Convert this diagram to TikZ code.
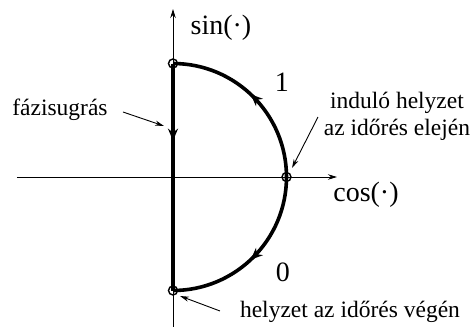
\documentclass[tikz,border=0pt]{standalone}
\usepackage{fontspec}
\setmainfont{Liberation Serif}
\usetikzlibrary{arrows.meta,decorations.markings}
\begin{document}
\begin{tikzpicture}[x=1pt,y=1pt,
  axis/.style={line width=0.9pt,-{Stealth[length=9pt,width=5.5pt]}},
  thickpath/.style={line width=3.6pt},
  midarrow/.style={postaction={decorate},decoration={markings,
     mark=at position #1 with {\arrow{Stealth[length=12pt,width=10pt]}}}},
  pointer/.style={line width=0.9pt,-{Stealth[length=9pt,width=5pt]}},
  marker/.style={circle,draw,line width=1.4pt,minimum size=9pt,inner sep=0pt},
  big/.style={font=\fontsize{28}{32}\selectfont,inner sep=0pt},
  note/.style={font=\fontsize{23.5}{27}\selectfont,inner sep=0pt,align=center}]
\useasboundingbox (-173,-150) rectangle (302,177);
\coordinate (O) at (0,0);
\coordinate (yb) at (0,-150);
\coordinate (yt) at (0,168);
\coordinate (xl) at (-156,0);
\coordinate (xr) at (164,0);
\coordinate (T) at (0,113.5);
\coordinate (B) at (0,-113.5);
\coordinate (R) at (113.5,0);
% axes
\draw[axis] (yb) -- (yt);
\draw[axis] (xl) -- (xr);
% thick paths
\draw[thickpath,midarrow=0.34] (T) -- (B);
\draw[thickpath,midarrow=0.52] (R) arc[start angle=0,end angle=90,radius=113.5];
\draw[thickpath,midarrow=0.52] (R) arc[start angle=0,end angle=-90,radius=113.5];
% markers
\node[marker] (mT) at (T) {};
\node[marker] (mB) at (B) {};
\node[marker] (mR) at (R) {};
% labels
\node[big] (sin) at (48,149) {sin(·)};
\node[big] (cos) at (193,-18) {cos(·)};
\node[big] (one) at (109,95) {1};
\node[big] (zero) at (110,-95) {0};
\node[note] (faz) at (-113,67) {fázisugrás};
\node[note] (ind) at (224,60.5) {induló helyzet\\az időrés elején};
\node[note] (veg) at (177,-135) {helyzet az időrés végén};
% pointers
\coordinate (p1s) at (-50,65);
\coordinate (p1e) at (-9,51);
\coordinate (p2s) at (145,60);
\coordinate (p2e) at (119,9);
\coordinate (p3s) at (47,-134);
\coordinate (p3e) at (7,-119);
\draw[pointer] (p1s) -- (p1e);
\draw[pointer] (p2s) -- (p2e);
\draw[pointer] (p3s) -- (p3e);
\end{tikzpicture}
\end{document}
